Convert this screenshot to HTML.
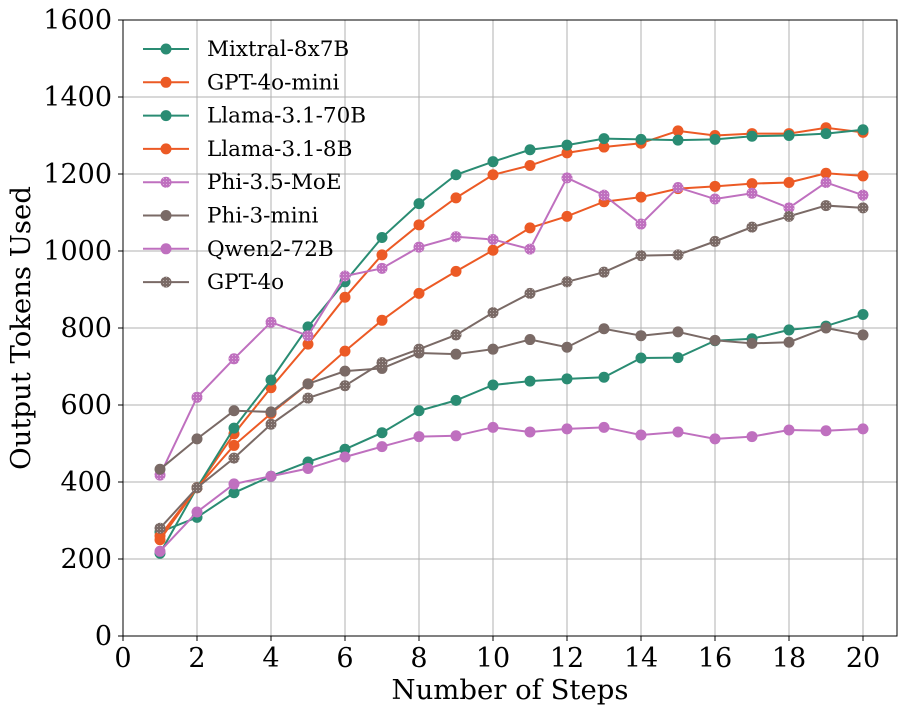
<!DOCTYPE html>
<html><head><meta charset="utf-8"><style>
body{margin:0;background:#fff}
svg{display:block;font-family:"DejaVu Serif","Liberation Serif",serif}
</style></head><body>
<svg id="chart" width="908" height="715" viewBox="0 0 908 715" xmlns="http://www.w3.org/2000/svg">
<defs>
<pattern id="hatch-pink" width="3" height="3" patternUnits="userSpaceOnUse"><rect width="3" height="3" fill="#bf70bf"/><circle cx="1.5" cy="1.5" r="0.5" fill="#e6c8e6"/></pattern>
<pattern id="hatch-brown" width="3" height="3" patternUnits="userSpaceOnUse"><rect width="3" height="3" fill="#7a6a66"/><circle cx="1.5" cy="1.5" r="0.5" fill="#c8bebc"/></pattern>
</defs>
<g id="grid"></g>
<g id="series"></g>
<rect x="123" y="20" width="774" height="616" fill="none" stroke="#000" stroke-width="1"/>
<g id="axes"></g>
<text x="510" y="699" font-size="27.5" text-anchor="middle">Number of Steps</text>
<text transform="translate(30,328) rotate(-90)" font-size="27.5" text-anchor="middle">Output Tokens Used</text>
<g id="legend"></g>
</svg>
<script>
const steps=[1,2,3,4,5,6,7,8,9,10,11,12,13,14,15,16,17,18,19,20];
const names=["Mixtral-8x7B","GPT-4o-mini","Llama-3.1-70B","Llama-3.1-8B","Phi-3.5-MoE","Phi-3-mini","Qwen2-72B","GPT-4o"];
const colors=["#2a8c73","#ec5a25","#2a8c73","#ec5a25","#bf70bf","#7a6a66","#bf70bf","#7a6a66"];
const fills=["#2a8c73","#ec5a25","#2a8c73","#ec5a25","url(#hatch-pink)","#7a6a66","#bf70bf","url(#hatch-brown)"];
const mixtral=[270,308,372,415,452,485,528,585,612,652,662,668,672,722,723,767,772,795,805,835];
const gpt4omini=[260,385,525,645,758,880,990,1068,1138,1198,1222,1255,1270,1280,1312,1300,1305,1305,1320,1308];
const llama70=[215,385,540,665,803,920,1035,1123,1198,1232,1263,1275,1292,1290,1288,1290,1298,1300,1305,1315];
const llama8=[250,385,495,578,655,740,820,890,947,1002,1060,1090,1128,1140,1162,1168,1175,1178,1202,1195];
const phi35=[418,620,720,815,780,935,955,1010,1037,1030,1005,1190,1145,1070,1165,1135,1150,1112,1178,1145];
const phi3mini=[433,512,585,582,655,688,695,735,732,745,770,750,798,780,790,768,760,763,800,782];
const qwen=[220,322,395,415,435,465,492,518,520,542,530,538,542,522,530,512,518,535,533,538];
const gpt4o=[280,385,462,550,618,650,710,745,782,840,890,920,945,988,990,1025,1062,1090,1118,1112];
const seriesData=[mixtral,gpt4omini,llama70,llama8,phi35,phi3mini,qwen,gpt4o];
const xTicks=[0,2,4,6,8,10,12,14,16,18,20];
const yTicks=[0,200,400,600,800,1000,1200,1400,1600];
const NS="http://www.w3.org/2000/svg";
const X=v=>123+v*37, Y=v=>636-v*0.385;
function mk(t,a,p){const e=document.createElementNS(NS,t);for(const k in a)e.setAttribute(k,a[k]);p.appendChild(e);return e;}
const grid=document.getElementById('grid'),axes=document.getElementById('axes');
xTicks.forEach(t=>{
 const g=mk('line',{x1:X(t),x2:X(t),y1:20,y2:636,stroke:'#b0b0b0','stroke-width':1},grid);
 
 
 mk('line',{x1:X(t),x2:X(t),y1:636,y2:641,stroke:'#000'},axes);
 const l=mk('text',{x:X(t),y:667,'font-size':27,'text-anchor':'middle'},axes);l.textContent=t;
 
 
});
yTicks.forEach(t=>{
 const g=mk('line',{x1:123,x2:897,y1:Y(t),y2:Y(t),stroke:'#b0b0b0','stroke-width':1},grid);
 
 
 mk('line',{x1:118,x2:123,y1:Y(t),y2:Y(t),stroke:'#000'},axes);
 const l=mk('text',{x:112,y:Y(t)+9,'font-size':27,'text-anchor':'end'},axes);l.textContent=t;
 
 
});
const sg=document.getElementById('series');
function marker(p,x,y,i){
 return mk('circle',{cx:x,cy:y,r:5.5,fill:fills[i]},p);
}
seriesData.forEach((d,i)=>{
 const g=mk('g',{},sg);
 
 
 mk('polyline',{points:d.map((v,j)=>X(steps[j])+','+Y(v)).join(' '),fill:'none',stroke:colors[i],'stroke-width':2},g);
 d.forEach((v,j)=>{const c=marker(g,X(steps[j]),Y(v),i);
  
  });
});
const lg=document.getElementById('legend');
names.forEach((n,i)=>{
 const y=49+i*33.3;
 const g=mk('g',{},lg);
 
 
 mk('line',{x1:143,x2:189,y1:y,y2:y,stroke:colors[i],'stroke-width':2},g);
 marker(g,166,y,i);
 const t=mk('text',{x:207,y:y+7,'font-size':21.5},g);t.textContent=n;
});
</script>
</body></html>
